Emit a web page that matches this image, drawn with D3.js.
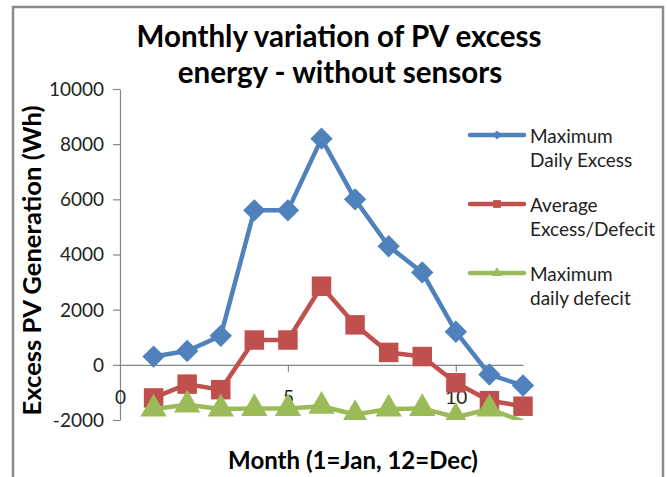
<!DOCTYPE html>
<html>
<head>
<meta charset="utf-8">
<script src="https://cdn.jsdelivr.net/npm/d3@7"></script>
<style>
  body { margin: 0; background: #fff; }
  text { font-family: Lato, "Open Sans", sans-serif; fill: #222; }
</style>
</head>
<body>
<svg id="chart" width="667" height="477"></svg>
<script>
// Values
const months = [1, 2, 3, 4, 5, 6, 7, 8, 9, 10, 11, 12];
const maxDailyExcess = [300, 500, 1050, 5600, 5600, 8200, 6000, 4300, 3350, 1200, -350, -750];
const avgExcessDefecit = [-1200, -700, -900, 900, 900, 2850, 1450, 450, 300, -650, -1300, -1500];
const maxDailyDefecit = [-1600, -1450, -1600, -1580, -1580, -1500, -1800, -1600, -1580, -1900, -1600, -2050];
const yTicks = [-2000, 0, 2000, 4000, 6000, 8000, 10000];
const xTicks = [0, 5, 10];

const series = [
  { name: ["Maximum", "Daily Excess"], values: maxDailyExcess, color: "#4f81bd", marker: "diamond" },
  { name: ["Average", "Excess/Defecit"], values: avgExcessDefecit, color: "#c0504d", marker: "square" },
  { name: ["Maximum", "daily defecit"], values: maxDailyDefecit, color: "#9bbb59", marker: "triangle" }
];

const svg = d3.select("#chart");
const plot = { left: 120, right: 523, top: 89, bottom: 420 };

const x = d3.scaleLinear().domain([0, 12]).range([plot.left, plot.right]);
const y = d3.scaleLinear().domain([-2000, 10000]).range([plot.bottom, plot.top]);

// shrink/grow a text's font size until it is as wide as in the reference
function fitWidth(sel, target) {
  const size = parseFloat(sel.style("font-size"));
  const w = sel.node().getComputedTextLength();
  sel.style("font-size", (size * target / w).toFixed(2) + "px");
  return sel;
}

function markerPath(kind, big) {
  const k = big ? 1 : 0.4;
  if (kind === "diamond") return d3.symbol(d3.symbolSquare, 250 * k * k)();
  if (kind === "square") return d3.symbol(d3.symbolSquare, 380 * k * k)();
  return d3.symbol(d3.symbolTriangle, 300 * k * k)();
}

// chart frame
svg.append("path")
  .attr("d", "M13,477 V7 H663 V477")
  .attr("fill", "none")
  .attr("stroke", "#8a8a8a")
  .attr("stroke-width", 2.5);

// title
const title1 = svg.append("text")
  .attr("x", 339).attr("y", 47)
  .attr("text-anchor", "middle")
  .style("font-size", "26px").style("font-weight", "bold").style("fill", "#000")
  .text("Monthly variation of PV excess");
fitWidth(title1, 405);
const title2 = svg.append("text")
  .attr("x", 340).attr("y", 83)
  .attr("text-anchor", "middle")
  .style("font-size", "26px").style("font-weight", "bold").style("fill", "#000")
  .text("energy - without sensors");
title2.style("font-size", title1.style("font-size"));

// y axis
const yAxis = d3.axisLeft(y).tickValues(yTicks).tickFormat(d => String(d))
  .tickSizeInner(7).tickSizeOuter(0).tickPadding(9);
const gy = svg.append("g")
  .attr("transform", `translate(${plot.left},0)`)
  .call(yAxis);
gy.selectAll(".tick text").style("font-size", "19px").attr("dy", "0.34em");

// x axis sits at y = 0, labels drawn lower
const xAxis = d3.axisBottom(x).tickValues(xTicks).tickSizeInner(7).tickSizeOuter(0).tickPadding(19);
const gx = svg.append("g")
  .attr("transform", `translate(0,${y(0)})`)
  .call(xAxis);
gx.selectAll(".tick text").style("font-size", "19px");
gx.selectAll(".tick").filter(d => d === 0).select("line").remove();

svg.selectAll(".domain, .tick line").attr("stroke", "#868686").attr("stroke-width", 1.2);
svg.selectAll(".tick text").style("fill", "#222");

// axis titles
const yTitle = svg.append("text")
  .attr("transform", `translate(41,${(plot.top + plot.bottom) / 2 + 6}) rotate(-90)`)
  .attr("text-anchor", "middle")
  .style("font-size", "20px").style("font-weight", "bold").style("fill", "#000")
  .text("Excess PV Generation (Wh)");
fitWidth(yTitle, 310);
const xTitle = svg.append("text")
  .attr("x", 353).attr("y", 469)
  .attr("text-anchor", "middle")
  .style("font-size", "20px").style("font-weight", "bold").style("fill", "#000")
  .text("Month (1=Jan, 12=Dec)");
fitWidth(xTitle, 250);

// clip to the plot area
svg.append("clipPath").attr("id", "plotClip")
  .append("rect")
  .attr("x", plot.left - 20).attr("y", plot.top - 20)
  .attr("width", plot.right - plot.left + 40)
  .attr("height", plot.bottom - plot.top + 20);

const line = d3.line().x((d, i) => x(months[i])).y(d => y(d));
const gPlot = svg.append("g").attr("clip-path", "url(#plotClip)");

series.forEach(s => {
  gPlot.append("path")
    .datum(s.values)
    .attr("fill", "none")
    .attr("stroke", s.color)
    .attr("stroke-width", 4.5)
    .attr("stroke-linejoin", "round")
    .attr("d", line);

  gPlot.selectAll(null)
    .data(s.values.map((v, i) => [months[i], v]).filter(d => d[1] >= -2000))
    .join("path")
    .attr("transform", d => `translate(${x(d[0])},${y(d[1])})` + (s.marker === "diamond" ? " rotate(45)" : ""))
    .attr("d", markerPath(s.marker, true))
    .attr("fill", s.color);
});

// legend
const legend = svg.append("g").attr("transform", "translate(470,135)");
series.forEach((s, i) => {
  const g = legend.append("g").attr("transform", `translate(0,${i * 69})`);
  g.append("line")
    .attr("x1", 0).attr("x2", 54)
    .attr("stroke", s.color).attr("stroke-width", 4.5)
    .attr("stroke-linecap", "round");
  g.append("path")
    .attr("transform", "translate(27,0)" + (s.marker === "diamond" ? " rotate(45)" : ""))
    .attr("d", markerPath(s.marker, false))
    .attr("fill", s.color);
  s.name.forEach((t, j) => {
    g.append("text")
      .attr("x", 60).attr("y", 8 + j * 24)
      .style("font-size", "19px")
      .text(t);
  });
});
</script>
</body>
</html>
